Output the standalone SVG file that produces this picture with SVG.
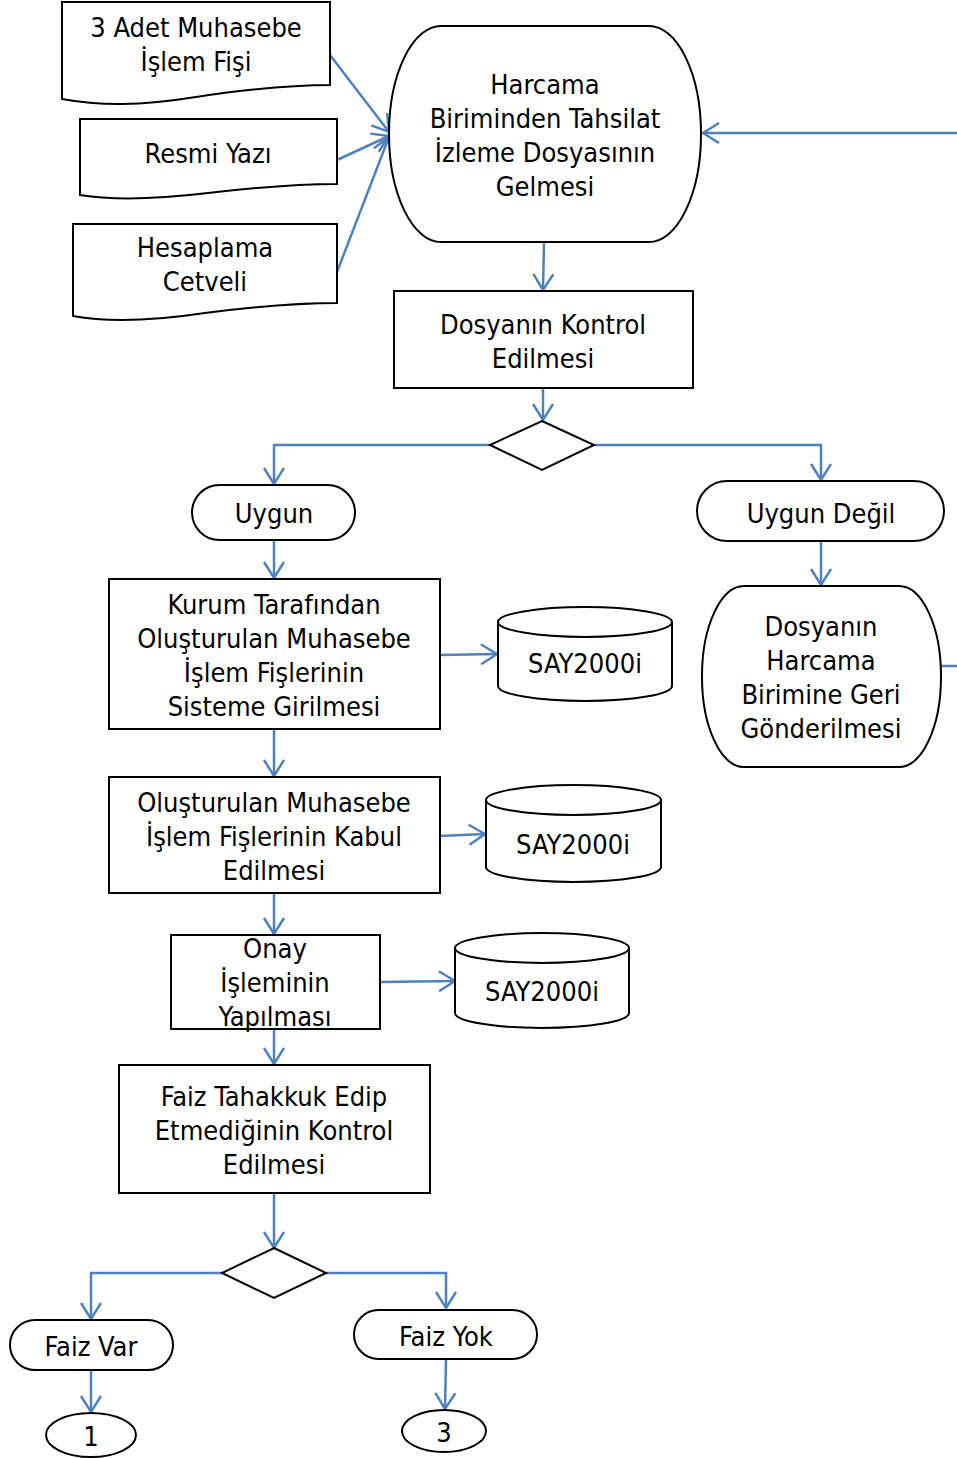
<svg xmlns="http://www.w3.org/2000/svg" width="957" height="1458" viewBox="0 0 957 1458">
<style>
.s{fill:#fff;stroke:#000;stroke-width:2}
.t{font-family:"DejaVu Sans Condensed","DejaVu Sans",sans-serif;font-stretch:condensed;font-size:27px;fill:#000;text-anchor:middle}
.c{fill:none;stroke:#4f81bd;stroke-width:2.5}
</style>
<defs>
<marker id="a" markerUnits="userSpaceOnUse" markerWidth="40" markerHeight="40" refX="0" refY="0" viewBox="-20 -20 40 40" orient="auto" overflow="visible">
<path d="M-16,-10 L0,0 L-16,10" fill="none" stroke="#4f81bd" stroke-width="2.5"/>
</marker>
</defs>
<g id="connectors">
<path class="c" marker-end="url(#a)" d="M330,55 L389,132"/>
<path class="c" marker-end="url(#a)" d="M337,160 L389,136"/>
<path class="c" marker-end="url(#a)" d="M337,272 L389,137"/>
<path class="c" marker-end="url(#a)" d="M941,666 H962 V133 H703"/>
<path class="c" marker-end="url(#a)" d="M544,242 L543,290"/>
<path class="c" marker-end="url(#a)" d="M543,388 V420"/>
<path class="c" marker-end="url(#a)" d="M490,445 H274 V484"/>
<path class="c" marker-end="url(#a)" d="M594,445 H821 V480"/>
<path class="c" marker-end="url(#a)" d="M274,540 V578"/>
<path class="c" marker-end="url(#a)" d="M821,541 V585"/>
<path class="c" marker-end="url(#a)" d="M440,655 L497,654"/>
<path class="c" marker-end="url(#a)" d="M274,729 V776"/>
<path class="c" marker-end="url(#a)" d="M440,836 L485,834"/>
<path class="c" marker-end="url(#a)" d="M274,893 V934"/>
<path class="c" marker-end="url(#a)" d="M380,982 L455,981"/>
<path class="c" marker-end="url(#a)" d="M274,1029 V1064"/>
<path class="c" marker-end="url(#a)" d="M274,1193 V1248"/>
<path class="c" marker-end="url(#a)" d="M222,1273 H91 V1319"/>
<path class="c" marker-end="url(#a)" d="M326,1273 H446 V1308"/>
<path class="c" marker-end="url(#a)" d="M91,1370 V1412"/>
<path class="c" marker-end="url(#a)" d="M446,1359 L445,1409"/>
</g>
<g id="doc1">
<path class="s" d="M62,2 H330 V85 C290,85 250,89 196,97 C140,106 100,106 62,99 Z"/>
<text class="t" x="196" y="37">3 Adet Muhasebe</text>
<text class="t" x="196" y="71">İşlem Fişi</text>
</g>
<g id="doc2">
<path class="s" d="M80,119 H337 V184 C297,184 260,187 208,193 C150,200 110,200 80,195 Z"/>
<text class="t" x="208" y="163">Resmi Yazı</text>
</g>
<g id="doc3">
<path class="s" d="M73,224 H337 V303 C297,303 260,306 205,313 C145,322 105,322 73,316 Z"/>
<text class="t" x="205" y="257">Hesaplama</text>
<text class="t" x="205" y="291">Cetveli</text>
</g>
<g id="start">
<rect class="s" x="389" y="26" width="312" height="216" rx="52" ry="108"/>
<text class="t" x="545" y="94">Harcama</text>
<text class="t" x="545" y="128">Biriminden Tahsilat</text>
<text class="t" x="545" y="162">İzleme Dosyasının</text>
<text class="t" x="545" y="196">Gelmesi</text>
</g>
<g id="kontrol">
<rect class="s" x="394" y="291" width="299" height="97"/>
<text class="t" x="543" y="334">Dosyanın Kontrol</text>
<text class="t" x="543" y="368">Edilmesi</text>
</g>
<g id="dec1">
<polygon class="s" points="542,421 594,445 542,470 490,445"/>
</g>
<g id="uygun">
<rect class="s" x="192" y="485" width="163" height="55" rx="27.5"/>
<text class="t" x="274" y="523">Uygun</text>
</g>
<g id="uygundegil">
<rect class="s" x="697" y="481" width="247" height="60" rx="30"/>
<text class="t" x="821" y="523">Uygun Değil</text>
</g>
<g id="geri">
<rect class="s" x="702" y="586" width="239" height="181" rx="42" ry="90"/>
<text class="t" x="821" y="636">Dosyanın</text>
<text class="t" x="821" y="670">Harcama</text>
<text class="t" x="821" y="704">Birimine Geri</text>
<text class="t" x="821" y="738">Gönderilmesi</text>
</g>
<g id="kurum">
<rect class="s" x="109" y="579" width="331" height="150"/>
<text class="t" x="274" y="614">Kurum Tarafından</text>
<text class="t" x="274" y="648">Oluşturulan Muhasebe</text>
<text class="t" x="274" y="682">İşlem Fişlerinin</text>
<text class="t" x="274" y="716">Sisteme Girilmesi</text>
</g>
<g id="db1">
<path class="s" d="M498,622 V686 A87,15 0 0 0 672,686 V622"/>
<ellipse class="s" cx="585" cy="622" rx="87" ry="15"/>
<text class="t" x="585" y="673">SAY2000i</text>
</g>
<g id="kabul">
<rect class="s" x="109" y="777" width="331" height="116"/>
<text class="t" x="274" y="812">Oluşturulan Muhasebe</text>
<text class="t" x="274" y="846">İşlem Fişlerinin Kabul</text>
<text class="t" x="274" y="880">Edilmesi</text>
</g>
<g id="db2">
<path class="s" d="M486,800 V867 A87.5,15 0 0 0 661,867 V800"/>
<ellipse class="s" cx="573.5" cy="800" rx="87.5" ry="15"/>
<text class="t" x="573" y="854">SAY2000i</text>
</g>
<g id="onay">
<rect class="s" x="171" y="935" width="209" height="94"/>
<text class="t" x="275" y="958">Onay</text>
<text class="t" x="275" y="992">İşleminin</text>
<text class="t" x="275" y="1026">Yapılması</text>
</g>
<g id="db3">
<path class="s" d="M455,948 V1013 A87,15 0 0 0 629,1013 V948"/>
<ellipse class="s" cx="542" cy="948" rx="87" ry="15"/>
<text class="t" x="542" y="1001">SAY2000i</text>
</g>
<g id="faiz">
<rect class="s" x="119" y="1065" width="311" height="128"/>
<text class="t" x="274" y="1106">Faiz Tahakkuk Edip</text>
<text class="t" x="274" y="1140">Etmediğinin Kontrol</text>
<text class="t" x="274" y="1174">Edilmesi</text>
</g>
<g id="dec2">
<polygon class="s" points="274,1248 326,1273 274,1298 222,1273"/>
</g>
<g id="faizvar">
<rect class="s" x="10" y="1320" width="163" height="50" rx="25"/>
<text class="t" x="91" y="1356">Faiz Var</text>
</g>
<g id="faizyok">
<rect class="s" x="354" y="1310" width="183" height="49" rx="24.5"/>
<text class="t" x="446" y="1346">Faiz Yok</text>
</g>
<g id="c1">
<ellipse class="s" cx="91" cy="1435" rx="45" ry="22"/>
<text class="t" x="91" y="1446">1</text>
</g>
<g id="c3">
<ellipse class="s" cx="444" cy="1431" rx="42" ry="21"/>
<text class="t" x="444" y="1442">3</text>
</g>
</svg>
